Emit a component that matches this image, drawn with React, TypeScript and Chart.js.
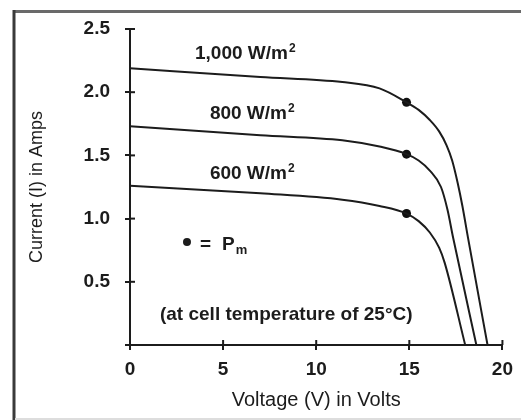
import { useEffect, useRef } from "react";
import { Chart, registerables } from "chart.js";

Chart.register(...registerables);

// ---- Data ----
const xTickValues = [0, 5, 10, 15, 20];
const xTickLabels = ["0", "5", "10", "15", "20"];
const yTickValues = [0, 0.5, 1.0, 1.5, 2.0, 2.5];
const yTickLabels = ["", "0.5", "1.0", "1.5", "2.0", "2.5"];

const voltage1000 = [0, 7, 11.4, 13.4, 14.85, 15.5, 16.1, 16.6, 17.0, 17.3, 17.6, 17.85, 18.15, 19.2];
const current1000 = [2.19, 2.12, 2.08, 2.03, 1.92, 1.86, 1.78, 1.69, 1.58, 1.46, 1.28, 1.1, 0.85, 0];

const voltage800 = [0, 7, 11.4, 13.4, 14.85, 15.5, 16.1, 16.7, 17.05, 17.35, 18.6];
const current800 = [1.73, 1.66, 1.62, 1.57, 1.51, 1.46, 1.38, 1.25, 1.07, 0.85, 0];

const voltage600 = [0, 7, 11.4, 13.4, 14.85, 15.5, 16.1, 16.6, 16.9, 18.0];
const current600 = [1.26, 1.2, 1.15, 1.1, 1.04, 0.98, 0.89, 0.77, 0.65, 0];

const pmVoltage = [14.85, 14.85, 14.85];
const pmCurrent = [1.92, 1.51, 1.04];

const curveLabels = ["1,000 W/m", "800 W/m", "600 W/m"];
const curveLabelX = [3.49, 4.29, 4.29];
const curveLabelY = [2.263, 1.788, 1.313];

const noteText = "(at cell temperature of 25°C)";
const noteX = 1.61;
const noteY = 0.198;

const pmKeyX = 3.06;
const pmKeyY = 0.815;

const xTitle = "Voltage (V) in Volts";
const yTitle = "Current (I) in Amps";

const INK = "#1c1c1c";
const FAMILY = "'Liberation Sans', Arial, Helvetica, sans-serif";

const toPoints = (xs: number[], ys: number[]) => xs.map((x, i) => ({ x, y: ys[i] }));

const framePlugin = {
  id: "frame",
  beforeDraw(chart: any) {
    const ctx = chart.ctx;
    ctx.save();
    ctx.fillStyle = "#ffffff";
    ctx.fillRect(0, 0, chart.width, chart.height);
    ctx.strokeStyle = "#6a6a6a";
    ctx.lineWidth = 3;
    ctx.beginPath();
    ctx.moveTo(13, 11.5);
    ctx.lineTo(chart.width, 11.5);
    ctx.stroke();
    ctx.strokeStyle = "#3a3a3a";
    ctx.beginPath();
    ctx.moveTo(14, 10);
    ctx.lineTo(14, chart.height);
    ctx.stroke();
    ctx.strokeStyle = "#dddddd";
    ctx.lineWidth = 2;
    ctx.beginPath();
    ctx.moveTo(15, 419);
    ctx.lineTo(chart.width, 419);
    ctx.stroke();
    ctx.restore();
  },
};

const innerTicksPlugin = {
  id: "innerTicks",
  afterDraw(chart: any) {
    const { ctx, chartArea, scales } = chart;
    ctx.save();
    ctx.strokeStyle = INK;
    ctx.lineWidth = 2;
    xTickValues.forEach((v) => {
      if (v === 0) return;
      const px = scales.x.getPixelForValue(v);
      ctx.beginPath();
      ctx.moveTo(px, chartArea.bottom);
      ctx.lineTo(px, chartArea.bottom - 5);
      ctx.stroke();
    });
    yTickValues.forEach((v) => {
      if (v === 0) return;
      const py = scales.y.getPixelForValue(v);
      ctx.beginPath();
      ctx.moveTo(chartArea.left, py);
      ctx.lineTo(chartArea.left + 5, py);
      ctx.stroke();
    });
    ctx.restore();
  },
};

const annotationPlugin = {
  id: "annotations",
  afterDraw(chart: any) {
    const { ctx, scales } = chart;
    const sx = (v: number) => scales.x.getPixelForValue(v);
    const sy = (v: number) => scales.y.getPixelForValue(v);
    ctx.save();
    ctx.fillStyle = INK;
    ctx.textBaseline = "alphabetic";
    ctx.textAlign = "left";
    const main = `bold 19px ${FAMILY}`;
    const small = `bold 12px ${FAMILY}`;

    curveLabels.forEach((t, i) => {
      const x = sx(curveLabelX[i]);
      const y = sy(curveLabelY[i]);
      ctx.font = main;
      ctx.fillText(t, x, y);
      const w = ctx.measureText(t).width;
      ctx.font = small;
      ctx.fillText("2", x + w + 1, y - 7);
    });

    // Pm key
    const kx = sx(pmKeyX);
    const ky = sy(pmKeyY);
    ctx.beginPath();
    ctx.arc(kx, ky, 4, 0, Math.PI * 2);
    ctx.fill();
    ctx.font = main;
    ctx.fillText("=", kx + 13, ky + 8);
    ctx.fillText("P", kx + 35, ky + 8);
    const pw = ctx.measureText("P").width;
    ctx.font = `bold 13px ${FAMILY}`;
    ctx.fillText("m", kx + 35 + pw + 1, ky + 12);

    ctx.font = main;
    ctx.fillText(noteText, sx(noteX), sy(noteY));
    ctx.restore();
  },
};

export default function App() {
  const canvasRef = useRef<HTMLCanvasElement | null>(null);

  useEffect(() => {
    if (!canvasRef.current) return;
    const lineStyle = {
      borderColor: INK,
      borderWidth: 2,
      pointRadius: 0,
      fill: false,
      cubicInterpolationMode: "monotone" as const,
    };
    const chart = new Chart(canvasRef.current, {
      type: "line",
      data: {
        datasets: [
          { label: "1,000 W/m²", data: toPoints(voltage1000, current1000), ...lineStyle },
          { label: "800 W/m²", data: toPoints(voltage800, current800), ...lineStyle },
          { label: "600 W/m²", data: toPoints(voltage600, current600), ...lineStyle },
          {
            label: "Pm",
            data: toPoints(pmVoltage, pmCurrent),
            showLine: false,
            pointRadius: 4.5,
            pointBackgroundColor: "#111",
            pointBorderWidth: 0,
            borderColor: "#111",
          },
        ],
      },
      options: {
        animation: false,
        responsive: false,
        events: [],
        layout: { padding: { top: 29, right: 18, bottom: 0, left: 0 } },
        plugins: { legend: { display: false }, tooltip: { enabled: false } },
        scales: {
          x: {
            type: "linear",
            min: 0,
            max: 20,
            afterFit: (s: any) => {
              s.height = 75;
            },
            afterBuildTicks: (s: any) => {
              s.ticks = xTickValues.map((v) => ({ value: v }));
            },
            ticks: {
              autoSkip: false,
              maxRotation: 0,
              padding: 8,
              color: INK,
              font: { family: FAMILY, size: 19, weight: "bold" },
              callback: (_v: any, i: number) => xTickLabels[i],
            },
            grid: {
              display: true,
              drawOnChartArea: false,
              drawTicks: true,
              tickLength: 5,
              color: INK,
              lineWidth: 2,
            },
            border: { display: true, color: INK, width: 2 },
            title: {
              display: true,
              text: xTitle,
              color: INK,
              font: { family: FAMILY, size: 20 },
              padding: { top: 0, bottom: 8 },
            },
          },
          y: {
            type: "linear",
            min: 0,
            max: 2.5,
            afterFit: (s: any) => {
              s.width = 130;
            },
            afterBuildTicks: (s: any) => {
              s.ticks = yTickValues.map((v) => ({ value: v }));
            },
            ticks: {
              autoSkip: false,
              padding: 15,
              color: INK,
              font: { family: FAMILY, size: 19, weight: "bold" },
              callback: (_v: any, i: number) => yTickLabels[i],
            },
            grid: {
              display: true,
              drawOnChartArea: false,
              drawTicks: true,
              tickLength: 5,
              color: INK,
              lineWidth: 2,
            },
            border: { display: true, color: INK, width: 2 },
            title: {
              display: true,
              text: yTitle,
              color: INK,
              font: { family: FAMILY, size: 18 },
              padding: { top: 26, bottom: 0 },
            },
          },
        },
      },
      plugins: [framePlugin, innerTicksPlugin, annotationPlugin],
    });
    return () => chart.destroy();
  }, []);

  return (
    <div style={{ position: "fixed", left: 0, top: 0, width: 521, height: 420, background: "#fff" }}>
      <canvas ref={canvasRef} width={521} height={420} style={{ display: "block" }} />
    </div>
  );
}
